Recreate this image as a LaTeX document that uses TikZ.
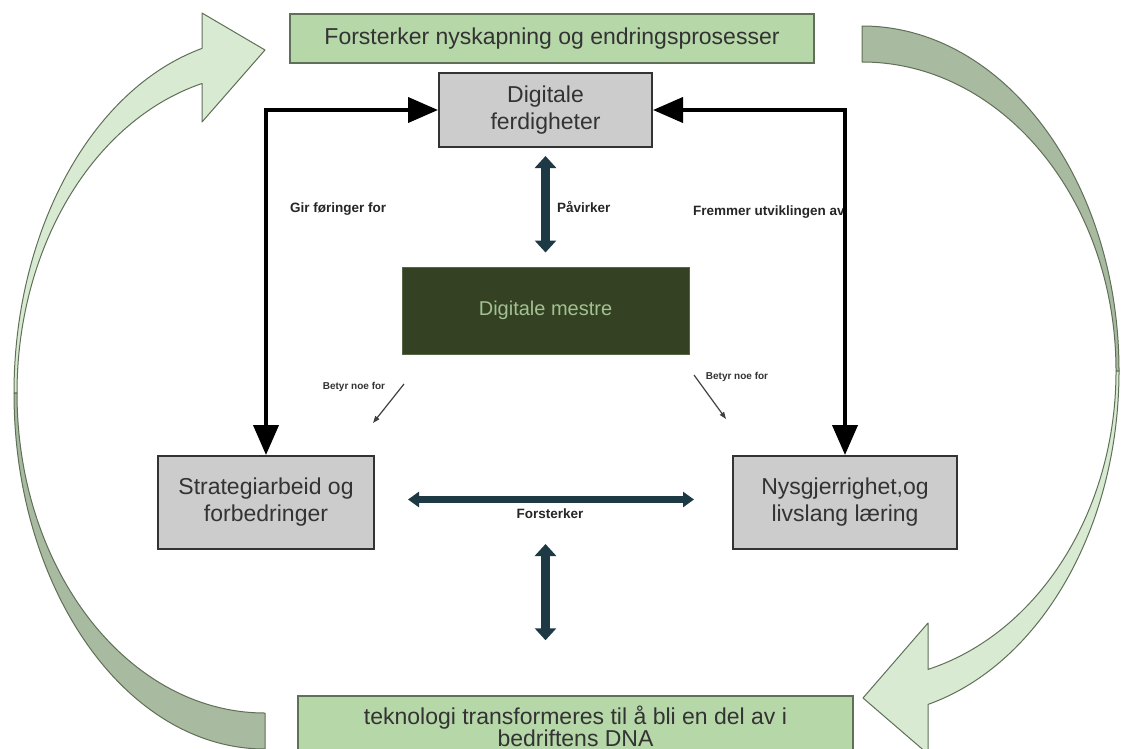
\documentclass[tikz,border=0pt]{standalone}
\usepackage{fontspec}
\setmainfont{Liberation Sans}
\usepackage{xcolor}
\usepackage{tikz}
\usetikzlibrary{arrows.meta,positioning}

\definecolor{boxgreen}{HTML}{B6D7A8}
\definecolor{arrowgreen}{HTML}{D9EAD3}
\definecolor{tailgreen}{HTML}{A8BA9F}
\definecolor{edgegreen}{HTML}{5F6F58}
\definecolor{mastergreen}{HTML}{344122}
\definecolor{slateteal}{HTML}{1D3A44}
\definecolor{boxgray}{HTML}{CCCCCC}
\definecolor{textgray}{HTML}{333333}

\begin{document}
\begin{tikzpicture}[x=1pt,y=-1pt,
  greenbox/.style={draw=edgegreen, line width=1.5pt, fill=boxgreen, text=textgray,
    align=center, inner sep=0pt, font=\fontsize{23}{22}\selectfont},
  graybox/.style={draw=textgray, line width=2pt, fill=boxgray, text=textgray,
    align=center, inner sep=0pt, font=\fontsize{23}{27}\selectfont},
  masterbox/.style={draw=mastergreen!75!boxgreen, line width=1pt, fill=mastergreen,
    text=boxgreen!85!mastergreen, inner sep=0pt, font=\fontsize{20}{24}\selectfont},
  lbl/.style={inner sep=0pt, text=black!85, font=\bfseries\fontsize{13.5}{15}\selectfont},
  smalllbl/.style={inner sep=0pt, text=black!80, font=\bfseries\fontsize{10}{12}\selectfont},
  blackconn/.style={line width=4pt, {Triangle[length=30pt,width=25pt]}-{Triangle[length=30pt,width=25pt]}},
  tealv/.style={draw=slateteal, line width=9pt, {Triangle[length=12pt,width=21pt]}-{Triangle[length=12pt,width=21pt]}},
  tealh/.style={draw=slateteal, line width=7pt, {Triangle[length=11pt,width=15pt]}-{Triangle[length=11pt,width=15pt]}},
  thinarrow/.style={draw=black!75, line width=1.2pt, -{Triangle[length=7pt,width=5pt]}},
  bendpart/.style={draw=edgegreen, line width=1pt, line join=round}
]
\useasboundingbox (0,0) rectangle (1121,749);
\fill[white] (0,0) rectangle (1121,749);
\clip (0,0) rectangle (1121,749);

% curved arrow, left side (tail at the bottom, head at the top)
\filldraw[bendpart, fill=tailgreen] (265,749)
  arc[start angle=90, end angle=180, x radius=251, y radius=356] -- (17,393)
  arc[start angle=180, end angle=90, x radius=248, y radius=320] -- cycle;
\filldraw[bendpart, fill=arrowgreen] (14,393)
  arc[start angle=180, end angle=255.47, x radius=251, y radius=356]
  -- (202,13) -- (265,50) -- (202,122) -- (202,83.5)
  arc[start angle=255.28, end angle=180, x radius=248, y radius=320] -- cycle;

% curved arrow, right side (tail at the top, head at the bottom)
\filldraw[bendpart, fill=tailgreen] (862,26)
  arc[start angle=270, end angle=360, x radius=257, y radius=345] -- (1116,371)
  arc[start angle=360, end angle=270, x radius=254, y radius=309] -- cycle;
\filldraw[bendpart, fill=arrowgreen] (1119,371)
  arc[start angle=0, end angle=75.12, x radius=257, y radius=345]
  -- (928,754) -- (863,698) -- (928,623) -- (928,669.4)
  arc[start angle=74.94, end angle=0, x radius=254, y radius=309] -- cycle;

% boxes
\node[greenbox, minimum width=524pt, minimum height=49pt] (renew) at (552,38.5)
  {Forsterker nyskapning og endringsprosesser};
\node[graybox, minimum width=213pt, minimum height=74pt] (ferd) at (545.5,110)
  {Digitale\\ferdigheter};
\node[masterbox, minimum width=287pt, minimum height=87pt] (mestre) at (545.5,310.5)
  {Digitale mestre};
\node[graybox, minimum width=216pt, minimum height=93pt] (strat) at (266,502.5)
  {Strategiarbeid og\\forbedringer};
\node[graybox, minimum width=224pt, minimum height=93pt] (nysg) at (845,502.5)
  {Nysgjerrighet,og\\livslang læring};
\node[greenbox, minimum width=555pt, minimum height=60pt] (dna) at (575.5,726)
  {teknologi transformeres til å bli en del av i\\bedriftens DNA};

% labels
\node[lbl, anchor=west] (gir) at (290,209) {Gir føringer for};
\node[lbl, anchor=west] (pav) at (557,207) {Påvirker};
\node[lbl, anchor=west] (fremmer) at (693,212) {Fremmer utviklingen av};
\node[lbl] (forst) at (550,514) {Forsterker};
\node[smalllbl] (betyrL) at (354,387) {Betyr noe for};
\node[smalllbl] (betyrR) at (737,377) {Betyr noe for};

% connectors
\draw[blackconn] (strat.north) |- (ferd.west);
\draw[blackconn] (nysg.north) |- (ferd.east);
\draw[tealv, shorten <=8pt, shorten >=14pt] (ferd.south) -- (mestre.north);
\draw[tealh, shorten <=33pt, shorten >=38pt] ([yshift=3pt]strat.east) -- ([yshift=3pt]nysg.west);
\coordinate (lowtop) at (545.5,544);
\draw[tealv, shorten >=55pt] (lowtop) -- (lowtop |- dna.north);

\coordinate (bLs) at (404,384);
\coordinate (bLe) at (373,423);
\coordinate (bRs) at (694,375);
\coordinate (bRe) at (726,419);
\draw[thinarrow] (bLs) -- (bLe);
\draw[thinarrow] (bRs) -- (bRe);
\end{tikzpicture}
\end{document}
